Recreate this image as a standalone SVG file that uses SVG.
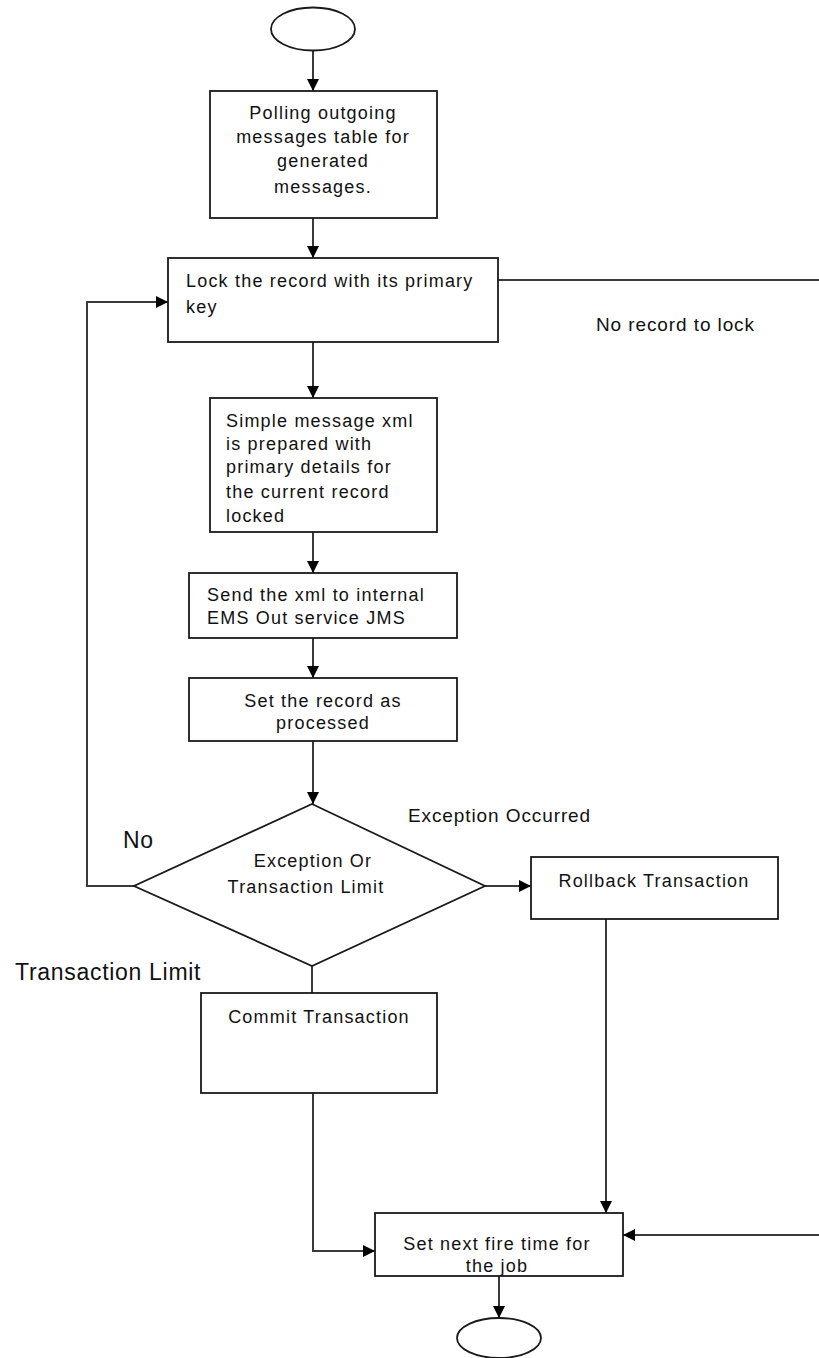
<svg xmlns="http://www.w3.org/2000/svg" width="819" height="1358" viewBox="0 0 819 1358">
<style>
.bg{fill:#fff}
.box{fill:#fff;stroke:#1a1a1a;stroke-width:1.8}
.conn{fill:none;stroke:#3a3a3a;stroke-width:2}
.t{font-family:"Liberation Sans",Arial,sans-serif;font-size:18px;letter-spacing:1.2px;fill:#111}
.c{text-anchor:middle}
.lbl{font-family:"Liberation Sans",Arial,sans-serif;font-size:19px;letter-spacing:0.9px;fill:#111}
.big{font-family:"Liberation Sans",Arial,sans-serif;font-size:23px;letter-spacing:0.7px;fill:#111}
</style>
<defs>
<marker id="ah" viewBox="0 0 12 12" refX="12" refY="6" markerWidth="12" markerHeight="12" markerUnits="userSpaceOnUse" orient="auto">
<path d="M0,0 L12,6 L0,12 z" fill="#000"/>
</marker>
</defs>
<rect class="bg" x="0" y="0" width="819" height="1358"/>
<g id="connectors">
<line class="conn" x1="313" y1="50" x2="313" y2="91" marker-end="url(#ah)"/>
<line class="conn" x1="313" y1="218" x2="313" y2="258" marker-end="url(#ah)"/>
<line class="conn" x1="313" y1="342" x2="313" y2="398" marker-end="url(#ah)"/>
<line class="conn" x1="313" y1="532" x2="313" y2="573" marker-end="url(#ah)"/>
<line class="conn" x1="313" y1="638" x2="313" y2="678" marker-end="url(#ah)"/>
<line class="conn" x1="313" y1="741" x2="313" y2="804" marker-end="url(#ah)"/>
<path class="conn" d="M134,886 H87 V302 H168" marker-end="url(#ah)"/>
<line class="conn" x1="485" y1="886" x2="531" y2="886" marker-end="url(#ah)"/>
<line class="conn" x1="312" y1="966" x2="312" y2="993"/>
<path class="conn" d="M313,1093 V1251 H375" marker-end="url(#ah)"/>
<line class="conn" x1="606" y1="919" x2="606" y2="1213" marker-end="url(#ah)"/>
<path class="conn" d="M498,280 H830 V1235 H623" marker-end="url(#ah)"/>
<line class="conn" x1="499" y1="1276" x2="499" y2="1318" marker-end="url(#ah)"/>
</g>
<g id="start"><ellipse class="box" cx="313" cy="29" rx="42" ry="21.5"/></g>
<g id="poll">
<rect class="box" x="210" y="91" width="227" height="127"/>
<text class="t c" x="323" y="119">Polling outgoing</text>
<text class="t c" x="323" y="143">messages table for</text>
<text class="t c" x="323" y="167">generated</text>
<text class="t c" x="323" y="193">messages.</text>
</g>
<g id="lock">
<rect class="box" x="168" y="258" width="330" height="84"/>
<text class="t" x="186" y="287">Lock the record with its primary</text>
<text class="t" x="186" y="313">key</text>
</g>
<g id="prepare">
<rect class="box" x="210" y="398" width="227" height="134"/>
<text class="t" x="226" y="427">Simple message xml</text>
<text class="t" x="226" y="450">is prepared with</text>
<text class="t" x="226" y="473">primary details for</text>
<text class="t" x="226" y="498">the current record</text>
<text class="t" x="226" y="522">locked</text>
</g>
<g id="send">
<rect class="box" x="189" y="573" width="268" height="65"/>
<text class="t" x="207" y="601">Send the xml to internal</text>
<text class="t" x="207" y="624">EMS Out service JMS</text>
</g>
<g id="processed">
<rect class="box" x="189" y="678" width="268" height="63"/>
<text class="t c" x="323" y="707">Set the record as</text>
<text class="t c" x="323" y="729">processed</text>
</g>
<g id="decision">
<polygon class="box" points="312,804 485,886 312,966 134,886"/>
<text class="t c" x="313" y="867">Exception Or</text>
<text class="t c" x="306" y="893">Transaction Limit</text>
</g>
<g id="rollback">
<rect class="box" x="531" y="857" width="247" height="62"/>
<text class="t c" x="654" y="887">Rollback Transaction</text>
</g>
<g id="commit">
<rect class="box" x="201" y="993" width="236" height="100"/>
<text class="t c" x="319" y="1023">Commit Transaction</text>
</g>
<g id="nextfire">
<rect class="box" x="375" y="1213" width="248" height="63"/>
<text class="t c" x="497" y="1250">Set next fire time for</text>
<text class="t c" x="497" y="1272">the job</text>
</g>
<g id="end"><ellipse class="box" cx="499" cy="1338" rx="42" ry="20"/></g>
<g id="labels">
<text class="lbl" x="596" y="331">No record to lock</text>
<text class="lbl" x="408" y="822">Exception Occurred</text>
<text class="big" x="123" y="848">No</text>
<text class="big" x="15" y="980">Transaction Limit</text>
</g>
</svg>
